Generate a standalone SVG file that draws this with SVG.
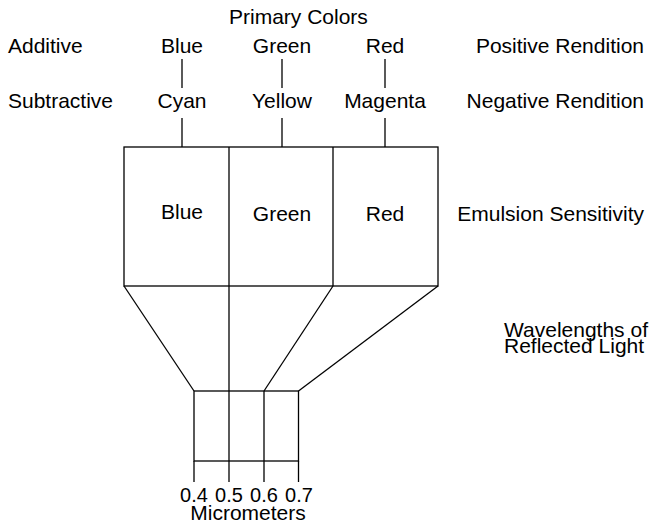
<svg xmlns="http://www.w3.org/2000/svg" width="653" height="523" viewBox="0 0 653 523">
<style>
text{font-family:"Liberation Sans",Arial,sans-serif;fill:#000;font-size:21px}
.c{text-anchor:middle}
.e{text-anchor:end}
.s{font-size:20px}
line,rect{stroke:#000;stroke-width:1.3;fill:none}
rect.bg{fill:#fff;stroke:none}
</style>
<rect class="bg" width="653" height="523"/>
<g id="labels">
<text x="229" y="24">Primary Colors</text>
<text x="8" y="53">Additive</text>
<text x="8" y="108">Subtractive</text>
<text class="e" x="644" y="53">Positive Rendition</text>
<text class="e" x="644" y="108">Negative Rendition</text>
<text class="e" x="644" y="221">Emulsion Sensitivity</text>
<text x="504" y="337">Wavelengths of</text>
<text x="504" y="353">Reflected Light</text>
</g>
<g id="additive">
<text class="c" x="182" y="53">Blue</text>
<text class="c" x="282" y="53">Green</text>
<text class="c" x="385" y="53">Red</text>
</g>
<g id="subtractive">
<text class="c" x="182" y="108">Cyan</text>
<text class="c" x="282" y="108">Yellow</text>
<text class="c" x="385" y="108">Magenta</text>
</g>
<g id="emulsion">
<rect x="124" y="147" width="314" height="139"/>
<line x1="229" y1="147" x2="229" y2="286"/>
<line x1="333" y1="147" x2="333" y2="286"/>
<text class="c" x="182" y="219">Blue</text>
<text class="c" x="282" y="221">Green</text>
<text class="c" x="385" y="221">Red</text>
</g>
<g id="wavelengths">
<rect x="194" y="391" width="104.5" height="70"/>
<line x1="194" y1="461" x2="194" y2="482"/>
<line x1="229" y1="461" x2="229" y2="482"/>
<line x1="264" y1="391" x2="264" y2="482"/>
<line x1="298.5" y1="461" x2="298.5" y2="482"/>
<text class="c s" x="194" y="502">0.4</text>
<text class="c s" x="229" y="502">0.5</text>
<text class="c s" x="264" y="502">0.6</text>
<text class="c s" x="299" y="502">0.7</text>
<text class="c" x="248" y="520">Micrometers</text>
</g>
<g id="connectors">
<line x1="182" y1="59" x2="182" y2="88"/>
<line x1="282" y1="59" x2="282" y2="88"/>
<line x1="385" y1="59" x2="385" y2="88"/>
<line x1="182" y1="118" x2="182" y2="147"/>
<line x1="282" y1="118" x2="282" y2="147"/>
<line x1="385" y1="118" x2="385" y2="147"/>
<line x1="124" y1="286" x2="194" y2="391"/>
<line x1="229" y1="286" x2="229" y2="461"/>
<line x1="333" y1="286" x2="264" y2="391"/>
<line x1="438" y1="286" x2="298.5" y2="391"/>
</g>
</svg>
